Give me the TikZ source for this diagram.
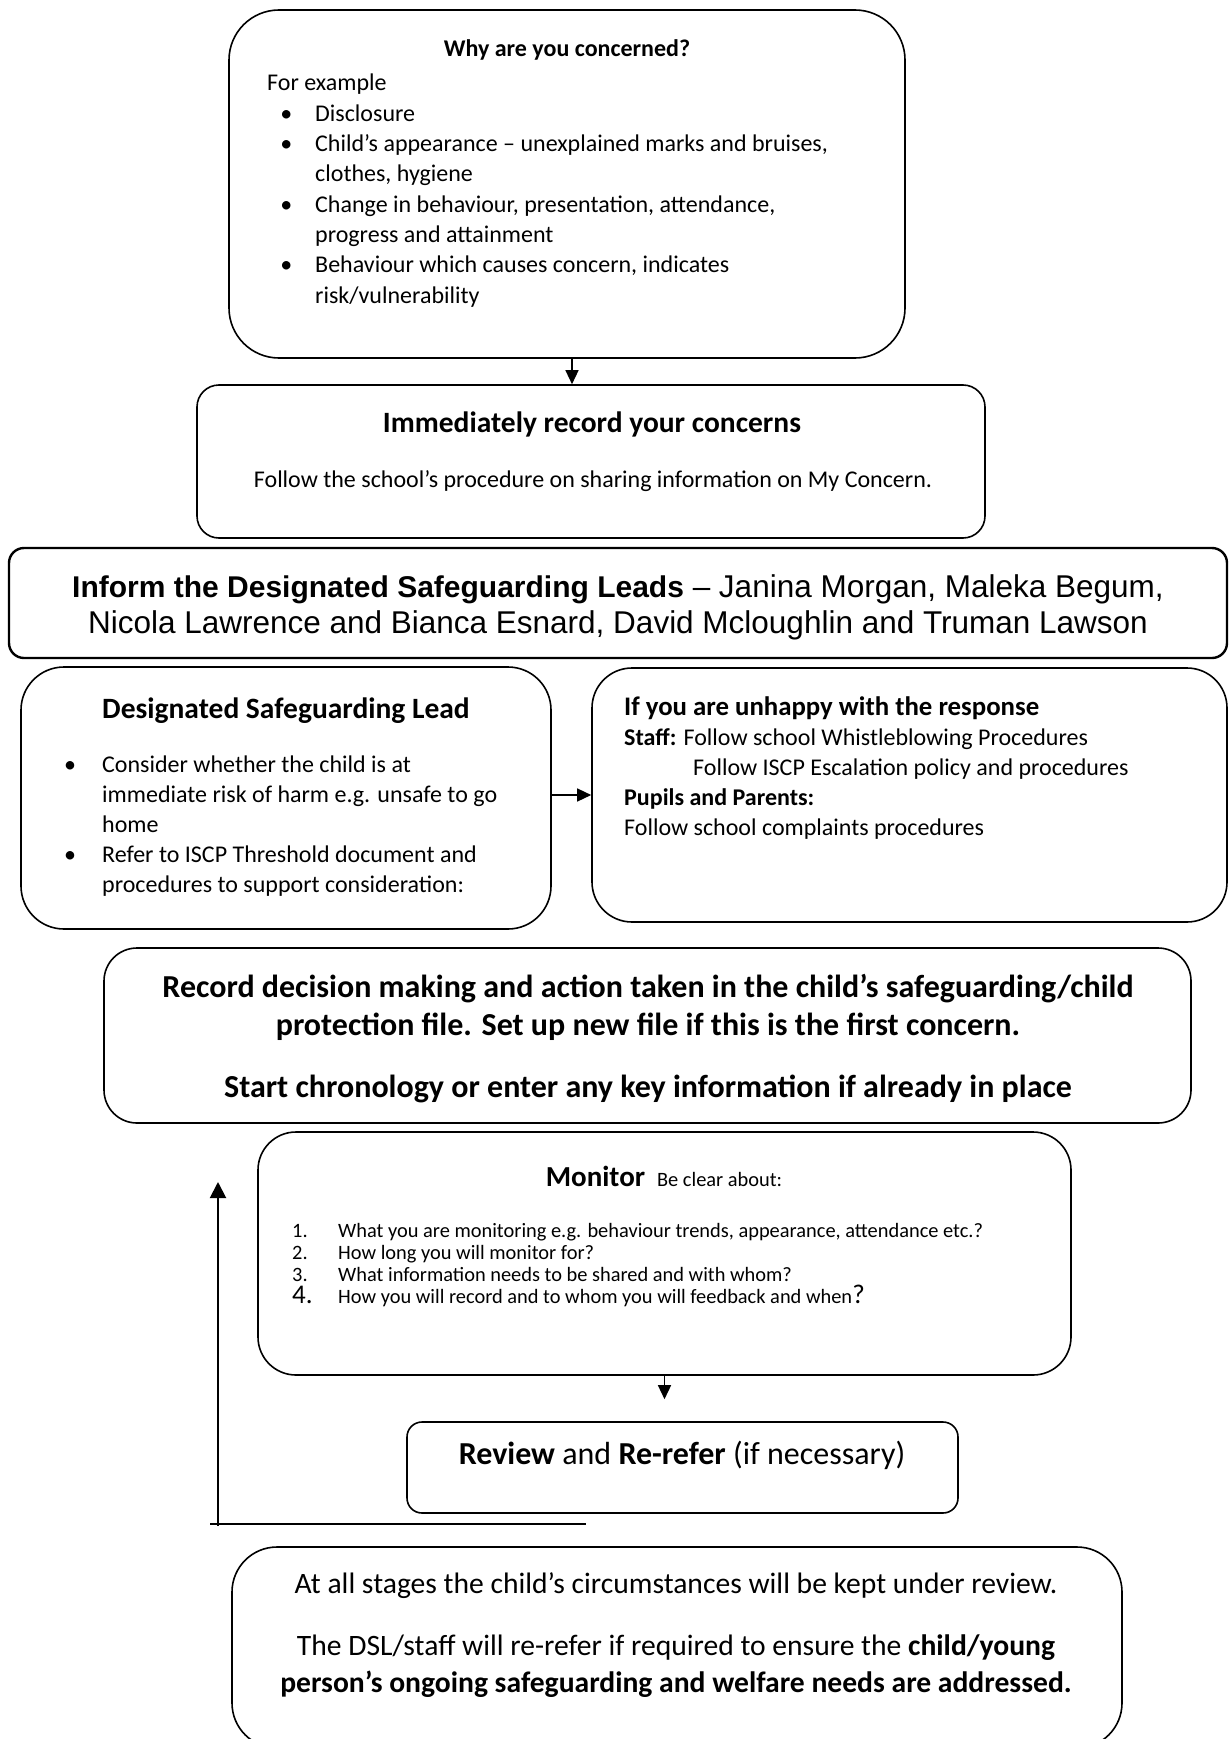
\documentclass[tikz,border=0pt]{standalone}
\usepackage{fontspec}
\setmainfont{Carlito}
\newfontfamily\arialfont{Liberation Sans}
\usetikzlibrary{arrows.meta}
\tikzset{
  box/.style={draw=black, line width=1.6pt, inner sep=0pt},
  arr/.style={draw=black, line width=1.4pt, -{Triangle[length=14pt,width=13pt]}},
  hd/.style={font=\fontsize{29.5}{38}\selectfont\bfseries, inner sep=0pt, align=center},
  hdsm/.style={font=\fontsize{24}{30}\selectfont\bfseries, inner sep=0pt},
  txt/.style={font=\fontsize{24}{30.3}\selectfont, inner sep=0pt, align=left},
  ctxt/.style={font=\fontsize{24}{30}\selectfont, inner sep=0pt, align=center},
  inf/.style={font=\arialfont\fontsize{31.5}{36}\selectfont, inner sep=0pt, align=center},
  small/.style={font=\fontsize{20.4}{22}\selectfont, inner sep=0pt, align=left},
  big/.style={font=\fontsize{29.6}{37}\selectfont, inner sep=0pt, align=center}
}
\newcommand\bul[1][23pt]{\llap{\textbullet\hspace{#1}}}

\begin{document}
\begin{tikzpicture}[x=1pt,y=-1pt]
  \useasboundingbox (0,0) rectangle (1230,1739);

  % boxes
  \node[box, rounded corners=50pt, minimum width=676pt, minimum height=348pt] (why) at (567,184) {};
  \node[box, rounded corners=22pt, minimum width=788pt, minimum height=153pt] (imm) at (591,461.5) {};
  \node[box, line width=2.4pt, rounded corners=15pt, minimum width=1218pt, minimum height=110pt] (inf) at (618,603) {};
  \node[box, rounded corners=43pt, minimum width=530pt, minimum height=262pt] (dsl) at (286,798) {};
  \node[box, rounded corners=40pt, minimum width=635pt, minimum height=254pt] (unh) at (909.5,795) {};
  \node[box, rounded corners=33pt, minimum width=1087pt, minimum height=175pt] (rec) at (647.5,1035.5) {};
  \node[box, rounded corners=38pt, minimum width=813pt, minimum height=243pt] (mon) at (664.5,1253.5) {};
  \node[box, rounded corners=15pt, minimum width=551pt, minimum height=91pt] (rev) at (682.5,1467.5) {};
  \node[box, rounded corners=45pt, minimum width=890pt, minimum height=201pt] (bot) at (677,1647.5) {};

  % connectors
  \draw[arr] ([xshift=5pt]why.south) -- ([xshift=5pt]why.south |- imm.north);
  \draw[arr] ([yshift=3pt]dsl.east) -- ([yshift=3pt]dsl.east -| unh.west);
  \draw[arr, shorten >=22pt] (mon.south) -- (mon.south |- rev.north);

  % loop back line
  \coordinate (fbB) at (218,1526);
  \coordinate (fbT) at (218,1182);
  \coordinate (hlL) at (210,1524);
  \coordinate (hlR) at (586,1524);
  \draw[line width=2pt, -{Triangle[length=16pt,width=16pt]}] (fbB) -- (fbT);
  \draw[line width=2.4pt] (hlL) -- (hlR);

  % texts
  \node[hdsm, anchor=base] (whyhd) at (567,57) {Why are you concerned?};
  \node[txt, anchor=base west] (whytx) at (267,303) {For example\\
    \hspace*{48pt}\bul Disclosure\\
    \hspace*{48pt}\bul Child’s appearance – unexplained marks and bruises,\\
    \hspace*{48pt}clothes, hygiene\\
    \hspace*{48pt}\bul Change in behaviour, presentation, attendance,\\
    \hspace*{48pt}progress and attainment\\
    \hspace*{48pt}\bul Behaviour which causes concern, indicates\\
    \hspace*{48pt}risk/vulnerability};

  \node[hd, anchor=base] (immhd) at (592,432) {Immediately record your concerns};
  \node[ctxt, anchor=base] (immtx) at (593,487) {Follow the school’s procedure on sharing information on My Concern.};

  \node[inf, anchor=base] (inftx) at (618,633) {{\fontsize{30}{36}\selectfont\bfseries Inform the Designated Safeguarding Leads} – Janina Morgan, Maleka Begum,\\
    Nicola Lawrence and Bianca Esnard, David Mcloughlin and Truman Lawson};

  \node[hd, anchor=base] (dslhd) at (286,718) {Designated Safeguarding Lead};
  \node[txt, anchor=base west, font=\fontsize{24}{30}\selectfont] (dsltx) at (102,892) {\bul[26pt]Consider whether the child is at\\
    immediate risk of harm e.g. unsafe to go\\
    home\\
    \bul[26pt]Refer to ISCP Threshold document and\\
    procedures to support consideration:};

  \node[txt, anchor=base west, font=\fontsize{24}{30}\selectfont] (unhtx) at (624,835) {{\fontsize{26.8}{30}\selectfont\bfseries If you are unhappy with the response}\\
    \textbf{Staff:} Follow school Whistleblowing Procedures\\
    \hspace*{69pt}Follow ISCP Escalation policy and procedures\\
    \textbf{Pupils and Parents:}\\
    Follow school complaints procedures};

  \node[hd, anchor=base, font=\fontsize{32}{38}\selectfont\bfseries] (rectx) at (648,1035) {Record decision making and action taken in the child’s safeguarding/child\\
    protection file. Set up new file if this is the first concern.};
  \node[hd, anchor=base, font=\fontsize{32}{38}\selectfont\bfseries] (rectx2) at (648,1097) {Start chronology or enter any key information if already in place};

  \node[inner sep=0pt, anchor=base] (monhd) at (664,1186) {\fontsize{29}{34}\selectfont\bfseries Monitor\hspace{12pt}\fontsize{20.4}{24}\mdseries\selectfont Be clear about:};
  \node[small, anchor=base west] (montx) at (292,1303) {\makebox[46pt][l]{1.}What you are monitoring e.g. behaviour trends, appearance, attendance etc.?\\
    \makebox[46pt][l]{2.}How long you will monitor for?\\
    \makebox[46pt][l]{3.}What information needs to be shared and with whom?\\
    \makebox[46pt][l]{\fontsize{27}{27}\selectfont 4.}How you will record and to whom you will feedback and when{\fontsize{27}{27}\selectfont ?}};

  \node[hd, anchor=base, font=\fontsize{32}{36}\selectfont] (revtx) at (682,1464) {\textbf{Review} and \textbf{Re-refer} (if necessary)};

  \node[big, anchor=base] (bottx) at (676,1593) {At all stages the child’s circumstances will be kept under review.};
  \node[big, anchor=base] (bottx2) at (676,1692) {The DSL/staff will re-refer if required to ensure the \textbf{child/young}\\
    \textbf{person’s ongoing safeguarding and welfare needs are addressed.}};
\end{tikzpicture}
\end{document}
